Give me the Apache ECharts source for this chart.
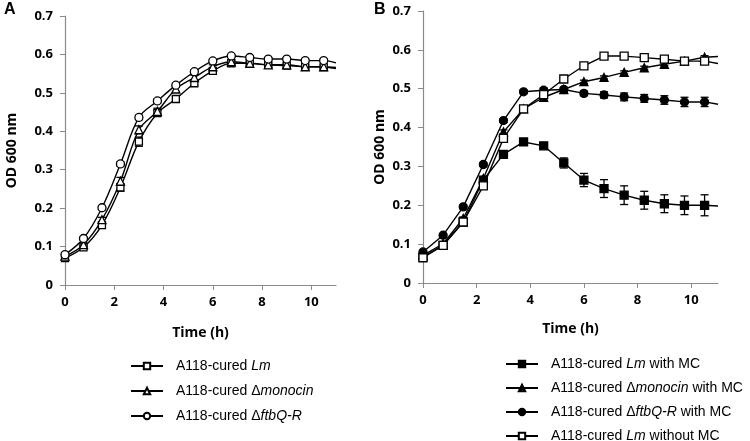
<!DOCTYPE html>
<html><head><meta charset="utf-8">
<script src="https://cdn.jsdelivr.net/npm/echarts@6/dist/echarts.min.js"></script>
<style>html,body{margin:0;padding:0;background:#fff}#c{width:750px;height:441px}</style>
</head><body><div id="c"></div>
<script>
// ---- shared axes ----
const times = [0, 0.75, 1.5, 2.25, 3, 3.75, 4.5, 5.25, 6, 6.75, 7.5, 8.25, 9, 9.75, 10.5];
const xTicks = [0, 2, 4, 6, 8, 10];
const xEnd = 11;

// ---- panel A ----
const aLm      = [0.070,0.098,0.156,0.254,0.373,0.447,0.484,0.525,0.557,0.577,0.577,0.573,0.571,0.568,0.567];
const aLmErr   = [0.005,0.005,0.006,0.010,0.012,0.008,0.006,0.006,0.005,0.005,0.005,0.005,0.005,0.005,0.005];
const aLmEnd   = 0.563;
const aMon     = [0.075,0.105,0.170,0.270,0.404,0.452,0.510,0.540,0.568,0.581,0.577,0.573,0.573,0.568,0.568];
const aMonErr  = [0.005,0.005,0.006,0.010,0.010,0.008,0.006,0.006,0.005,0.005,0.005,0.005,0.005,0.005,0.005];
const aMonEnd  = 0.566;
const aFtb     = [0.079,0.121,0.201,0.315,0.436,0.479,0.520,0.555,0.583,0.596,0.592,0.588,0.588,0.584,0.584];
const aFtbErr  = [0.004,0.004,0.005,0.006,0.006,0.005,0.005,0.005,0.004,0.004,0.004,0.004,0.004,0.004,0.004];
const aFtbEnd  = 0.578;

// ---- panel B ----
const bLmMC      = [0.067,0.097,0.157,0.265,0.331,0.363,0.353,0.309,0.265,0.243,0.226,0.213,0.204,0.200,0.200];
const bLmMCErr   = [0.003,0.004,0.005,0.006,0.007,0.006,0.005,0.013,0.017,0.023,0.024,0.023,0.023,0.024,0.027];
const bLmMCEnd   = 0.198;
const bMonMC     = [0.071,0.101,0.166,0.269,0.389,0.448,0.478,0.498,0.518,0.529,0.542,0.554,0.563,0.571,0.581];
const bMonMCErr  = [0.004,0.004,0.004,0.005,0.005,0.005,0.004,0.004,0.004,0.004,0.004,0.004,0.004,0.004,0.004];
const bMonMCEnd  = 0.583;
const bFtbMC     = [0.080,0.123,0.196,0.305,0.418,0.492,0.496,0.498,0.488,0.484,0.479,0.475,0.471,0.466,0.466];
const bFtbMCErr  = [0.004,0.004,0.005,0.005,0.005,0.005,0.006,0.006,0.006,0.008,0.010,0.010,0.011,0.012,0.012];
const bFtbMCEnd  = 0.460;
const bLmNoMC    = [0.065,0.097,0.157,0.250,0.372,0.448,0.485,0.525,0.559,0.584,0.584,0.580,0.576,0.571,0.571];
const bLmNoMCErr = [0.004,0.004,0.004,0.005,0.005,0.005,0.004,0.004,0.004,0.004,0.004,0.004,0.004,0.004,0.004];
const bLmNoMCEnd = 0.565;

const legendRich = {
  'A118-cured Lm': '{n|A118-cured }{i|Lm}',
  'A118-cured Δmonocin': '{n|A118-cured Δ}{i|monocin}',
  'A118-cured ΔftbQ-R': '{n|A118-cured Δ}{i|ftbQ-R}',
  'A118-cured Lm with MC': '{n|A118-cured }{i|Lm}{n| with MC}',
  'A118-cured Δmonocin with MC': '{n|A118-cured Δ}{i|monocin}{n| with MC}',
  'A118-cured ΔftbQ-R with MC': '{n|A118-cured Δ}{i|ftbQ-R}{n| with MC}',
  'A118-cured Lm without MC': '{n|A118-cured }{i|Lm}{n| without MC}'
};

function lineSeries(name, vals, end, symbol, size, filled, idx, smooth) {
  const data = times.map((t, i) => [t, vals[i]]);
  data.push({ value: [xEnd, end], symbol: 'none' });
  return {
    type: 'line', name, xAxisIndex: idx, yAxisIndex: idx, data,
    symbol, symbolSize: size, showAllSymbol: true, smooth: smooth ? 0.35 : false,
    lineStyle: { color: '#000', width: 1.4 },
    itemStyle: { color: filled ? '#000' : '#fff', borderColor: '#000', borderWidth: 1.3 },
    z: 3, silent: true
  };
}
function errSeries(vals, errs, idx) {
  return {
    type: 'custom', xAxisIndex: idx, yAxisIndex: idx, z: 2, silent: true,
    data: times.map((t, i) => [t, vals[i], errs[i]]),
    encode: { x: 0, y: 1 },
    renderItem(params, api) {
      const x = api.value(0), y = api.value(1), e = api.value(2);
      const top = api.coord([x, y + e]), bot = api.coord([x, y - e]);
      const w = 4, st = { stroke: '#000', lineWidth: 1.3 };
      return { type: 'group', children: [
        { type: 'line', shape: { x1: top[0], y1: top[1], x2: bot[0], y2: bot[1] }, style: st },
        { type: 'line', shape: { x1: top[0] - w, y1: top[1], x2: top[0] + w, y2: top[1] }, style: st },
        { type: 'line', shape: { x1: bot[0] - w, y1: bot[1], x2: bot[0] + w, y2: bot[1] }, style: st }
      ]};
    }
  };
}

const axisGray = '#8a8a8a';
const tickFont = { fontFamily: 'Open Sans', fontWeight: 'bold', fontSize: 13, color: '#000' };
function xAx(idx) {
  return {
    type: 'value', gridIndex: idx, min: 0, max: xEnd, interval: 2,
    name: 'Time (h)', nameLocation: 'middle', nameGap: idx === 0 ? 41 : 39,
    nameTextStyle: { fontFamily: 'Open Sans', fontWeight: 'bold', fontSize: 14, color: '#000' },
    axisLine: { lineStyle: { color: axisGray, width: 1.2 } },
    axisTick: { show: true, length: 5, lineStyle: { color: axisGray }, customValues: xTicks },
    axisLabel: Object.assign({ margin: 11, customValues: xTicks }, tickFont),
    splitLine: { show: false }
  };
}
function yAx(idx) {
  return {
    type: 'value', gridIndex: idx, min: 0, max: 0.7, interval: 0.1,
    name: 'OD 600 nm', nameLocation: 'middle', nameRotate: 90, nameGap: idx === 0 ? 46 : 36,
    nameTextStyle: { fontFamily: 'Open Sans', fontWeight: 'bold', fontSize: 14, color: '#000' },
    axisLine: { show: true, lineStyle: { color: axisGray, width: 1.2 } },
    axisTick: { show: true, length: 5, lineStyle: { color: axisGray } },
    axisLabel: Object.assign({ margin: 12, formatter: v => (Math.round(v * 10) / 10).toString() }, tickFont),
    splitLine: { show: false }
  };
}
function legendCfg(names, left, top, gap) {
  return {
    data: names, orient: 'vertical', left, top, height: 120, padding: 0, itemGap: gap, itemWidth: 32, itemHeight: 8,
    selectedMode: false,
    formatter: n => legendRich[n],
    textStyle: {
      padding: [0, 0, 0, 8],
      lineHeight: 8,
      rich: {
        n: { fontFamily: 'Liberation Sans', fontSize: 14, lineHeight: 8, color: '#000' },
        i: { fontFamily: 'Liberation Sans', fontSize: 14, lineHeight: 8, fontStyle: 'italic', color: '#000' }
      }
    }
  };
}

const chart = echarts.init(document.getElementById('c'), null, { renderer: 'canvas' });
chart.setOption({
  animation: false,
  backgroundColor: '#fff',
  grid: [
    { left: 65, top: 16, right: 414, bottom: 156 },
    { left: 423, top: 11, right: 32, bottom: 158 }
  ],
  xAxis: [xAx(0), xAx(1)],
  yAxis: [yAx(0), yAx(1)],
  legend: [
    legendCfg(['A118-cured Lm', 'A118-cured Δmonocin', 'A118-cured ΔftbQ-R'], 130, 359, 11),
    legendCfg(['A118-cured Lm with MC', 'A118-cured Δmonocin with MC', 'A118-cured ΔftbQ-R with MC', 'A118-cured Lm without MC'], 505, 357, 10)
  ],
  graphic: [
    { type: 'text', left: 4, top: 2, style: { text: 'A', font: 'bold 16px "Liberation Sans"', fill: '#000' } },
    { type: 'text', left: 374, top: 2, style: { text: 'B', font: 'bold 16px "Liberation Sans"', fill: '#000' } }
  ],
  series: [
    errSeries(aLm, aLmErr, 0), errSeries(aMon, aMonErr, 0), errSeries(aFtb, aFtbErr, 0),
    lineSeries('A118-cured Lm', aLm, aLmEnd, 'rect', 7, false, 0, true),
    lineSeries('A118-cured Δmonocin', aMon, aMonEnd, 'triangle', 8, false, 0, true),
    lineSeries('A118-cured ΔftbQ-R', aFtb, aFtbEnd, 'circle', 8, false, 0, true),
    errSeries(bLmMC, bLmMCErr, 1), errSeries(bMonMC, bMonMCErr, 1), errSeries(bFtbMC, bFtbMCErr, 1), errSeries(bLmNoMC, bLmNoMCErr, 1),
    lineSeries('A118-cured Lm with MC', bLmMC, bLmMCEnd, 'rect', 8, true, 1, false),
    lineSeries('A118-cured Δmonocin with MC', bMonMC, bMonMCEnd, 'triangle', 8, true, 1, false),
    lineSeries('A118-cured ΔftbQ-R with MC', bFtbMC, bFtbMCEnd, 'circle', 8, true, 1, false),
    lineSeries('A118-cured Lm without MC', bLmNoMC, bLmNoMCEnd, 'rect', 8, false, 1, false)
  ]
});
</script></body></html>
